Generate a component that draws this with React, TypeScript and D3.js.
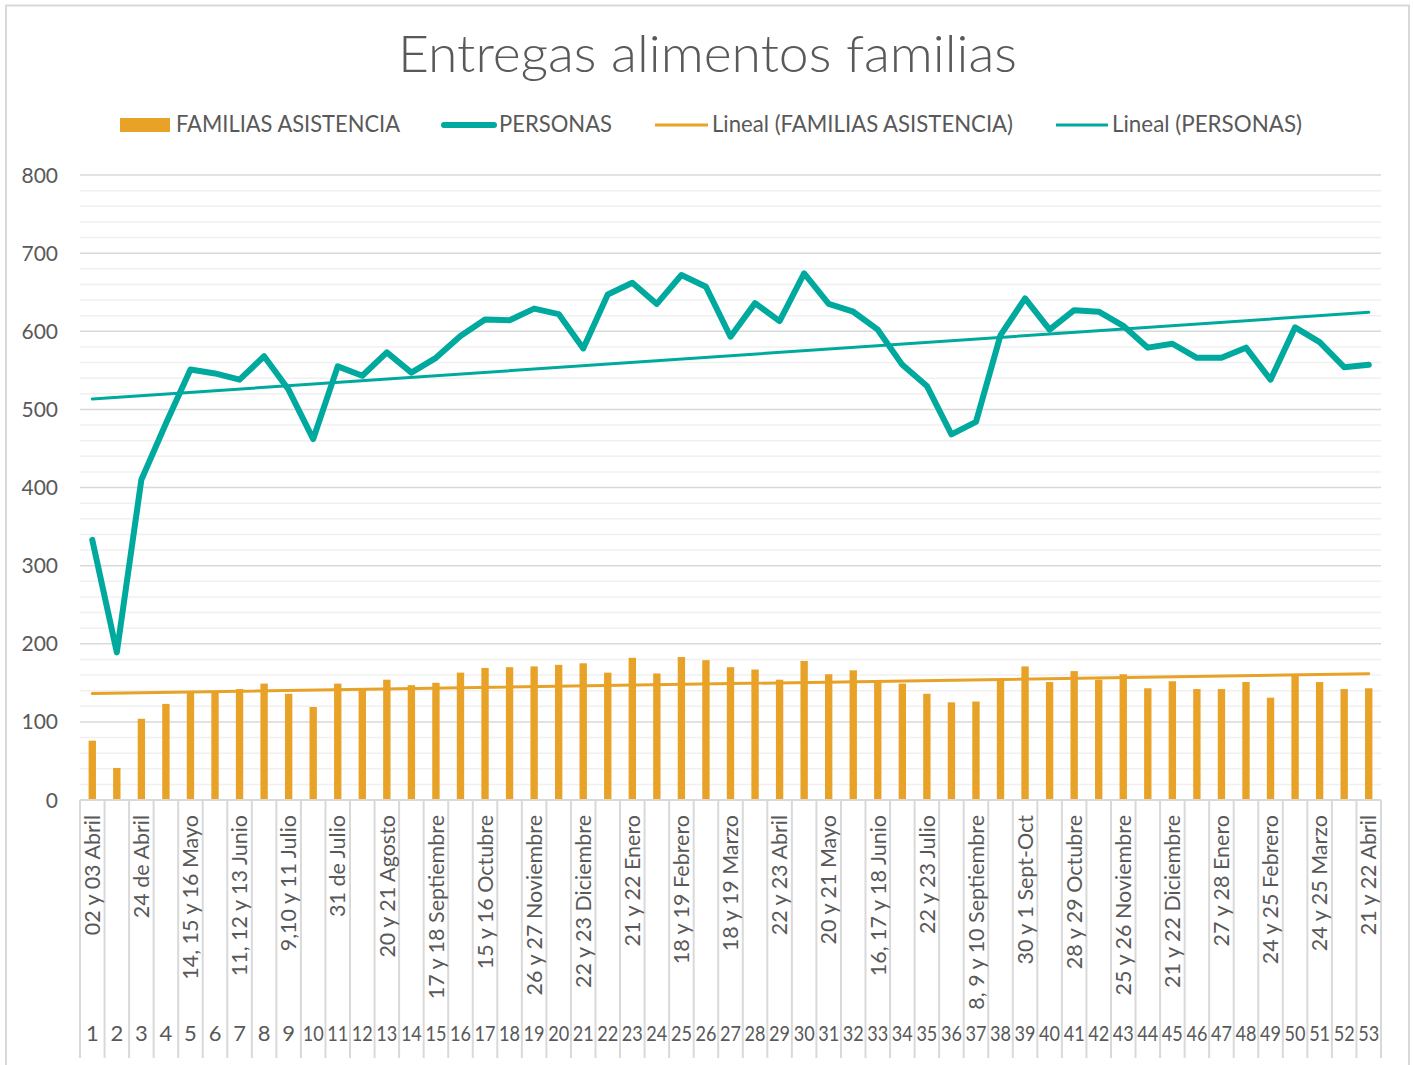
import React, { useEffect, useRef } from "react";
import * as d3 from "d3";

// numero de entrega (segunda fila del eje)
const semanas = [
  "1", "2", "3", "4", "5", "6", "7", "8", "9", "10",
  "11", "12", "13", "14", "15", "16", "17", "18", "19", "20",
  "21", "22", "23", "24", "25", "26", "27", "28", "29", "30",
  "31", "32", "33", "34", "35", "36", "37", "38", "39", "40",
  "41", "42", "43", "44", "45", "46", "47", "48", "49", "50",
  "51", "52", "53",
];

// fechas (primera fila del eje, una de cada dos)
const fechas = [
  "02 y 03 Abril", "", "24 de Abril", "", "14, 15 y 16 Mayo", "",
  "11, 12 y 13 Junio", "", "9,10 y 11 Julio", "", "31 de Julio", "",
  "20 y 21 Agosto", "", "17 y 18 Septiembre", "", "15 y 16 Octubre", "",
  "26 y 27 Noviembre", "", "22 y 23 Diciembre", "", "21 y 22 Enero", "",
  "18 y 19 Febrero", "", "18 y 19 Marzo", "", "22 y 23 Abril", "",
  "20 y 21 Mayo", "", "16, 17 y 18 Junio", "", "22 y 23 Julio", "",
  "8, 9 y 10 Septiembre", "", "30 y 1 Sept-Oct", "", "28 y 29 Octubre", "",
  "25 y 26 Noviembre", "", "21 y 22 Diciembre", "", "27 y 28 Enero", "",
  "24 y 25 Febrero", "", "24 y 25 Marzo", "", "21 y 22 Abril",
];

const familias = [
  76, 41, 104, 123, 139, 139, 142, 149, 136, 119,
  149, 141, 154, 147, 150, 163, 169, 170, 171, 173,
  175, 163, 182, 162, 183, 179, 170, 167, 154, 178,
  161, 166, 152, 149, 136, 125, 126, 154, 171, 151,
  165, 154, 161, 143, 152, 142, 142, 151, 131, 159,
  151, 142, 143,
];

const personas = [
  333, 189, 410, 482, 551, 546, 538, 568, 525, 462,
  555, 543, 573, 547, 566, 594, 615, 614, 629, 622,
  578, 647, 662, 635, 672, 657, 593, 636, 613, 674,
  635, 625, 602, 557, 530, 468, 484, 595, 642, 602,
  627, 625, 607, 579, 584, 566, 566, 579, 538, 605,
  586, 554, 557,
];

const yTicks = [0, 100, 200, 300, 400, 500, 600, 700, 800];

const NARANJA = "#E8A228";
const VERDE = "#00A99D";
const GRIS = "#595959";
const FUENTE = "Lato, 'Open Sans', sans-serif";

// recta de minimos cuadrados sobre el indice 1..n
function tendencia(vals: number[]) {
  const n = vals.length;
  const xs = vals.map((_, i) => i + 1);
  const mx = d3.mean(xs) as number;
  const my = d3.mean(vals) as number;
  let num = 0;
  let den = 0;
  xs.forEach((x, i) => {
    num += (x - mx) * (vals[i] - my);
    den += (x - mx) * (x - mx);
  });
  const b = num / den;
  const a = my - b * mx;
  return [
    { i: 0, v: a + b * 1 },
    { i: n - 1, v: a + b * n },
  ];
}

const App = () => {
  const ref = useRef<SVGSVGElement>(null);

  useEffect(() => {
    const svg = d3.select(ref.current);
    svg.selectAll("*").remove();

    const left = 80;
    const right = 1381;
    const top = 175;
    const bottom = 800;

    const x = d3.scaleBand<string>().domain(semanas).range([left, right]).padding(0);
    const cx = (i: number) => (x(semanas[i]) as number) + x.bandwidth() / 2;
    const y = d3.scaleLinear().domain([0, 800]).range([bottom, top]);

    // marco del grafico
    svg.append("rect")
      .attr("x", 6).attr("y", 5.5)
      .attr("width", 1403).attr("height", 1080)
      .attr("fill", "#fff")
      .attr("stroke", "#d9d9d9")
      .attr("stroke-width", 2);

    // titulo
    svg.append("text")
      .attr("x", 707.5).attr("y", 72)
      .attr("text-anchor", "middle")
      .attr("font-family", FUENTE)
      .attr("font-weight", 300)
      .attr("font-size", 51)
      .attr("fill", GRIS)
      .attr("textLength", 619)
      .attr("lengthAdjust", "spacingAndGlyphs")
      .text("Entregas alimentos familias");

    // lineas de division menores y mayores
    const menores = d3.range(20, 800, 20).filter((v) => v % 100 !== 0);
    svg.append("g").selectAll("line")
      .data(menores)
      .enter().append("line")
      .attr("x1", left).attr("x2", right)
      .attr("y1", (d) => y(d)).attr("y2", (d) => y(d))
      .attr("stroke", "#f0f0f0")
      .attr("stroke-width", 1.5);
    svg.append("g").selectAll("line")
      .data(yTicks.filter((d) => d > 0))
      .enter().append("line")
      .attr("x1", left).attr("x2", right)
      .attr("y1", (d) => y(d)).attr("y2", (d) => y(d))
      .attr("stroke", "#d9d9d9")
      .attr("stroke-width", 1.5);

    // etiquetas eje Y
    svg.append("g").selectAll("text")
      .data(yTicks)
      .enter().append("text")
      .attr("x", 58).attr("y", (d) => y(d))
      .attr("dy", "0.36em")
      .attr("text-anchor", "end")
      .attr("font-family", FUENTE)
      .attr("font-size", 21)
      .attr("fill", GRIS)
      .text((d) => d);

    // barras FAMILIAS ASISTENCIA
    const bw = x.bandwidth() * 0.3;
    svg.append("g").selectAll("rect")
      .data(familias)
      .enter().append("rect")
      .attr("x", (d, i) => cx(i) - bw / 2)
      .attr("y", (d) => y(d))
      .attr("width", bw)
      .attr("height", (d) => y(0) - y(d))
      .attr("fill", NARANJA);

    // eje X y separadores
    svg.append("line")
      .attr("x1", left).attr("x2", right)
      .attr("y1", bottom).attr("y2", bottom)
      .attr("stroke", "#d9d9d9").attr("stroke-width", 2);
    const bordes = semanas.map((s) => x(s) as number).concat([right]);
    svg.append("g").selectAll("line")
      .data(bordes)
      .enter().append("line")
      .attr("x1", (d) => d).attr("x2", (d) => d)
      .attr("y1", bottom).attr("y2", 1058)
      .attr("stroke", "#d9d9d9").attr("stroke-width", 2);

    // fechas rotadas
    svg.append("g").selectAll("text")
      .data(fechas)
      .enter().append("text")
      .attr("transform", (d, i) => `translate(${cx(i)},815) rotate(-90)`)
      .attr("dy", "0.36em")
      .attr("text-anchor", "end")
      .attr("font-family", FUENTE)
      .attr("font-size", 21.5)
      .attr("fill", GRIS)
      .text((d) => d);

    // numeros
    const nums = svg.append("g").selectAll("text")
      .data(semanas)
      .enter().append("text")
      .attr("x", (d, i) => cx(i))
      .attr("y", 1041)
      .attr("text-anchor", "middle")
      .attr("font-family", FUENTE)
      .attr("font-size", 22)
      .attr("fill", GRIS)
      .text((d) => d);
    nums.filter((d) => d.length > 1)
      .attr("textLength", 21)
      .attr("lengthAdjust", "spacingAndGlyphs");

    // lineas de tendencia
    const linea = d3.line<{ i: number; v: number }>()
      .x((d) => cx(d.i))
      .y((d) => y(d.v));
    svg.append("path")
      .datum(tendencia(familias))
      .attr("d", linea)
      .attr("fill", "none")
      .attr("stroke", NARANJA)
      .attr("stroke-width", 3)
      .attr("stroke-linecap", "round");

    // PERSONAS
    svg.append("path")
      .datum(personas.map((v, i) => ({ i, v })))
      .attr("d", linea)
      .attr("fill", "none")
      .attr("stroke", VERDE)
      .attr("stroke-width", 6)
      .attr("stroke-linejoin", "round")
      .attr("stroke-linecap", "round");

    svg.append("path")
      .datum(tendencia(personas))
      .attr("d", linea)
      .attr("fill", "none")
      .attr("stroke", VERDE)
      .attr("stroke-width", 3)
      .attr("stroke-linecap", "round");

    // leyenda
    const ley = svg.append("g").attr("font-family", FUENTE).attr("font-size", 23).attr("fill", GRIS);
    ley.append("rect").attr("x", 120).attr("y", 118).attr("width", 50).attr("height", 14).attr("fill", NARANJA);
    ley.append("text").attr("x", 176).attr("y", 132).attr("textLength", 224).attr("lengthAdjust", "spacingAndGlyphs").text("FAMILIAS ASISTENCIA");

    ley.append("line").attr("x1", 444).attr("x2", 494).attr("y1", 125).attr("y2", 125)
      .attr("stroke", VERDE).attr("stroke-width", 6).attr("stroke-linecap", "round");
    ley.append("text").attr("x", 499).attr("y", 132).attr("textLength", 113).attr("lengthAdjust", "spacingAndGlyphs").text("PERSONAS");

    ley.append("line").attr("x1", 655).attr("x2", 708).attr("y1", 125).attr("y2", 125)
      .attr("stroke", NARANJA).attr("stroke-width", 3);
    ley.append("text").attr("x", 712).attr("y", 132).attr("textLength", 301).attr("lengthAdjust", "spacingAndGlyphs").text("Lineal (FAMILIAS ASISTENCIA)");

    ley.append("line").attr("x1", 1056).attr("x2", 1108).attr("y1", 125).attr("y2", 125)
      .attr("stroke", VERDE).attr("stroke-width", 3);
    ley.append("text").attr("x", 1112).attr("y", 132).attr("textLength", 190).attr("lengthAdjust", "spacingAndGlyphs").text("Lineal (PERSONAS)");
  }, []);

  return (
    <svg
      ref={ref}
      width={1413}
      height={1065}
      style={{ position: "absolute", left: 0, top: 0, background: "#fff" }}
    />
  );
};

export default App;
